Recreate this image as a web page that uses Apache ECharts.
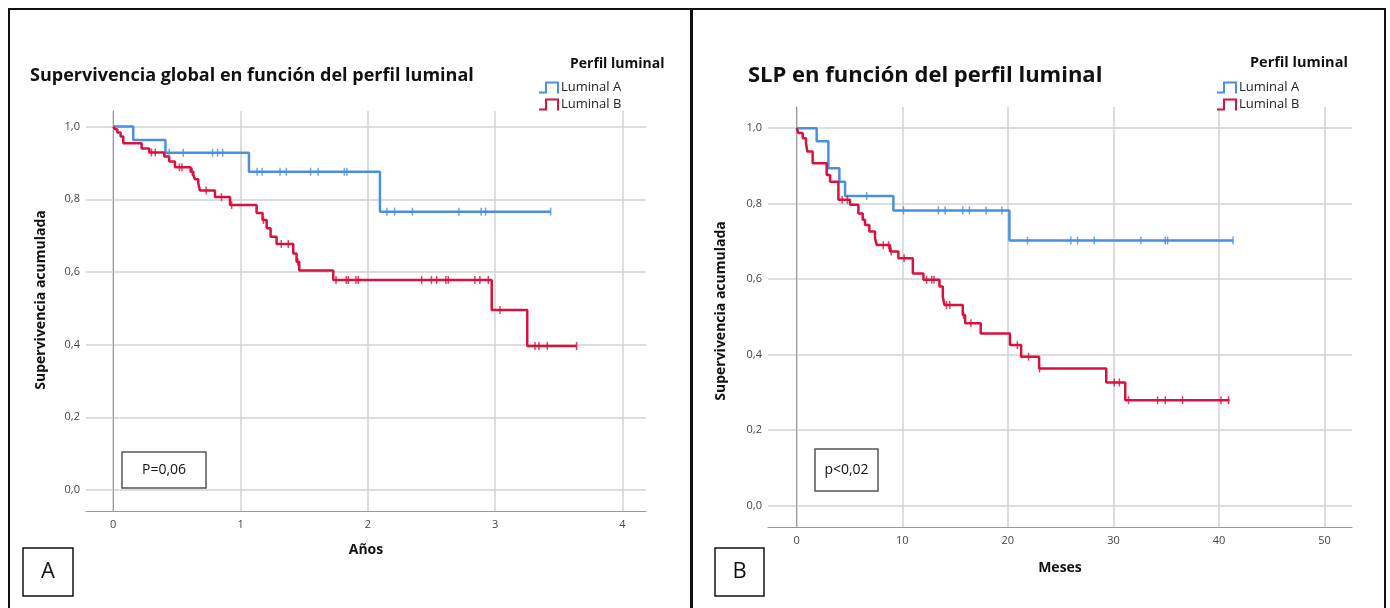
<!DOCTYPE html>
<html>
<head>
<meta charset="utf-8">
<script src="https://cdn.jsdelivr.net/npm/echarts@6/dist/echarts.min.js"></script>
<style>
  html, body { margin: 0; padding: 0; background: #fff; }
  #chart { width: 1390px; height: 608px; }
</style>
</head>
<body>
<div id="chart"></div>
<script>
// Kaplan-Meier curves: [time, survival after the event]
// A: supervivencia global (años)
const osLuminalA = [[0, 1], [0.157, 0.963], [0.41, 0.928], [1.066, 0.876], [2.095, 0.766], [3.436, 0.766]];
const osLuminalB = [
  [0, 1], [0.013, 0.993], [0.032, 0.984], [0.058, 0.973], [0.079, 0.954], [0.223, 0.94],
  [0.283, 0.929], [0.401, 0.918], [0.44, 0.904], [0.485, 0.888], [0.608, 0.876], [0.629, 0.867],
  [0.642, 0.855], [0.668, 0.844], [0.681, 0.824], [0.799, 0.806], [0.917, 0.784], [1.126, 0.762],
  [1.173, 0.743], [1.205, 0.72], [1.236, 0.697], [1.283, 0.677], [1.414, 0.651], [1.44, 0.628],
  [1.461, 0.604], [1.728, 0.578], [2.973, 0.495], [3.252, 0.396], [3.64, 0.396]
];
// censored times
const osCensA = [0.44, 0.55, 0.78, 0.82, 0.86, 1.13, 1.17, 1.31, 1.36, 1.55, 1.61, 1.815, 1.835,
  2.15, 2.21, 2.35, 2.715, 2.89, 2.925, 3.436];
const osCensB = [0.30, 0.33, 0.52, 0.54, 0.62, 0.73, 0.85, 0.93, 1.18, 1.32, 1.375, 1.45, 1.75,
  1.83, 1.846, 1.907, 1.925, 2.423, 2.5, 2.54, 2.613, 2.632, 2.841, 2.88, 2.946, 3.038, 3.313,
  3.344, 3.409, 3.64];

// B: SLP (meses)
const pfsLuminalA = [[0, 1], [1.89, 0.965], [3.0, 0.894], [4.04, 0.858], [4.58, 0.82], [9.16, 0.782],
  [20.15, 0.702], [41.33, 0.702]];
const pfsLuminalB = [
  [0, 1], [0.16, 0.987], [0.57, 0.973], [0.88, 0.96], [1.0, 0.938], [1.51, 0.907], [2.84, 0.876],
  [3.16, 0.858], [3.95, 0.81], [5.05, 0.797], [5.84, 0.774], [6.25, 0.757], [6.47, 0.743],
  [6.88, 0.726], [7.42, 0.708], [7.58, 0.69], [8.84, 0.673], [9.63, 0.655], [11.0, 0.615],
  [12.0, 0.598], [13.52, 0.58], [13.84, 0.553], [14.0, 0.531], [15.73, 0.505], [15.95, 0.483],
  [17.43, 0.456], [20.2, 0.425], [21.26, 0.394], [22.96, 0.363], [29.32, 0.326], [31.12, 0.279],
  [41.0, 0.279]
];
const pfsCensA = [6.63, 10.11, 13.42, 14.06, 15.73, 16.36, 17.94, 19.43, 21.86, 25.97, 26.6,
  28.18, 32.6, 34.91, 35.13, 41.33];
const pfsCensB = [4.3, 4.8, 8.2, 8.7, 8.95, 10.17, 12.3, 12.8, 13.0, 14.2, 14.5, 15.8, 16.5,
  20.9, 21.96, 23.0, 30.08, 30.56, 31.43, 34.18, 34.91, 36.55, 40.19, 40.91];

const groups = ['Luminal A', 'Luminal B'];
const BLUE = '#4a8fe0';
const RED = '#d8123e';

// level of a step curve at time t (censor marks sit on the curve)
function levelAt(curve, t) {
  let s = curve[0][1];
  for (const p of curve) { if (p[0] <= t) s = p[1]; }
  return s;
}
const marks = (curve, times) => times.map((t) => [t, levelAt(curve, t)]);

const stepIcon = 'path://M0,10L6,10L6,0L20,0L20,12L18,12L18,2L8,2L8,12L0,12Z';
const fmt = (v) => v.toFixed(1).replace('.', ',');
const FONT = 'Open Sans';

const chart = echarts.init(document.getElementById('chart'), null, { renderer: 'canvas' });

function yAxis(gridIndex, min, max, nameGap, shift) {
  return {
    type: 'value', gridIndex, min, max, splitNumber: 5,
    name: 'Supervivencia acumulada', nameLocation: 'middle', nameGap,
    nameTextStyle: { fontFamily: FONT, fontSize: 14, fontWeight: 'bold', color: '#111', padding: [0, 0, 0, shift] },
    axisLine: { show: true, lineStyle: { color: '#9a9a9a', width: 1 } },
    axisTick: { show: false },
    axisLabel: { formatter: fmt, showMinLabel: false, showMaxLabel: false, color: '#444', fontSize: 11, fontFamily: FONT, margin: 6 },
    splitLine: { show: true, showMinLine: false, showMaxLine: false, lineStyle: { color: '#d2d2d2', width: 1.5 } },
  };
}
function xAxis(gridIndex, min, max, name, nameGap) {
  return {
    type: 'value', gridIndex, min, max, splitNumber: 5,
    name, nameLocation: 'middle', nameGap,
    nameTextStyle: { fontFamily: FONT, fontSize: 14, fontWeight: 'bold', color: '#111' },
    axisLine: { show: true, onZero: false, lineStyle: { color: '#9a9a9a', width: 1 } },
    axisTick: { show: false },
    axisLabel: { showMinLabel: false, showMaxLabel: false, color: '#444', fontSize: 11, fontFamily: FONT, margin: 8 },
    splitLine: { show: true, showMinLine: false, showMaxLine: false, lineStyle: { color: '#d2d2d2', width: 1.5 } },
  };
}
function curve(name, data, color, i) {
  return {
    name, type: 'line', step: 'end', data, xAxisIndex: i, yAxisIndex: i,
    symbol: 'none', lineStyle: { color, width: 2.5 }, itemStyle: { color }, z: 3,
  };
}
function censor(name, data, color, i) {
  return {
    name, type: 'scatter', data, xAxisIndex: i, yAxisIndex: i,
    symbol: 'rect', symbolSize: [1.5, 8], itemStyle: { color }, z: 4,
  };
}
function legend(left, top) {
  return {
    orient: 'vertical', left, top, itemWidth: 20, itemHeight: 12, itemGap: 4,
    selectedMode: false,
    textStyle: { fontFamily: FONT, fontSize: 13, color: '#222', padding: [0, 0, 0, -3] },
    data: [
      { name: groups[0], icon: stepIcon, itemStyle: { color: BLUE } },
      { name: groups[1], icon: stepIcon, itemStyle: { color: RED } },
    ],
  };
}
function box(x, y, w, h, label, size, stroke) {
  return [
    { type: 'rect', shape: { x, y, width: w, height: h }, style: { fill: '#fff', stroke, lineWidth: 1.5 }, z: 10 },
    { type: 'text', x: x + w / 2, y: y + h / 2, style: { text: label, fill: '#111', font: `${size}px "${FONT}"`, align: 'center', verticalAlign: 'middle' }, z: 11 },
  ];
}

chart.setOption({
  animation: false,
  title: [
    { text: 'Supervivencia global en función del perfil luminal', left: 25, top: 62,
      textStyle: { fontFamily: FONT, fontSize: 18, fontWeight: 'bold', color: '#111' } },
    { text: 'Perfil luminal', left: 565, top: 52,
      textStyle: { fontFamily: FONT, fontSize: 14, fontWeight: 'bold', color: '#111' } },
    { text: 'SLP en función del perfil luminal', left: 743, top: 60,
      textStyle: { fontFamily: FONT, fontSize: 22, fontWeight: 'bold', color: '#111' } },
    { text: 'Perfil luminal', left: 1245, top: 50,
      textStyle: { fontFamily: FONT, fontSize: 14.5, fontWeight: 'bold', color: '#111' } },
  ],
  legend: [legend(534, 76), legend(1212, 76)],
  grid: [
    { left: 86, top: 111, width: 560, height: 400 },
    { left: 768, top: 107, width: 584, height: 420 },
  ],
  xAxis: [xAxis(0, -0.214, 4.185, 'Años', 32), xAxis(1, -2.72, 52.6, 'Meses', 34)],
  yAxis: [yAxis(0, -0.058, 1.043, 38, 22), yAxis(1, -0.057, 1.056, 40, 12)],
  series: [
    curve(groups[0], osLuminalA, BLUE, 0),
    curve(groups[1], osLuminalB, RED, 0),
    censor(groups[0], marks(osLuminalA, osCensA), BLUE, 0),
    censor(groups[1], marks(osLuminalB, osCensB), RED, 0),
    curve(groups[0], pfsLuminalA, BLUE, 1),
    curve(groups[1], pfsLuminalB, RED, 1),
    censor(groups[0], marks(pfsLuminalA, pfsCensA), BLUE, 1),
    censor(groups[1], marks(pfsLuminalB, pfsCensB), RED, 1),
  ],
  graphic: [
    { type: 'rect', shape: { x: 9, y: 9, width: 682, height: 620 }, style: { fill: 'none', stroke: '#111', lineWidth: 2 }, z: 1 },
    { type: 'rect', shape: { x: 692, y: 9, width: 693, height: 620 }, style: { fill: 'none', stroke: '#111', lineWidth: 2 }, z: 1 },
    ...box(122, 452, 84, 36, 'P=0,06', 14, '#555'),
    ...box(815, 449, 63, 42, 'p<0,02', 14, '#555'),
    ...box(23, 548, 50, 48, 'A', 22, '#111'),
    ...box(715, 548, 49, 48, 'B', 22, '#111'),
  ],
});

window.addEventListener('resize', () => chart.resize());
</script>
</body>
</html>
